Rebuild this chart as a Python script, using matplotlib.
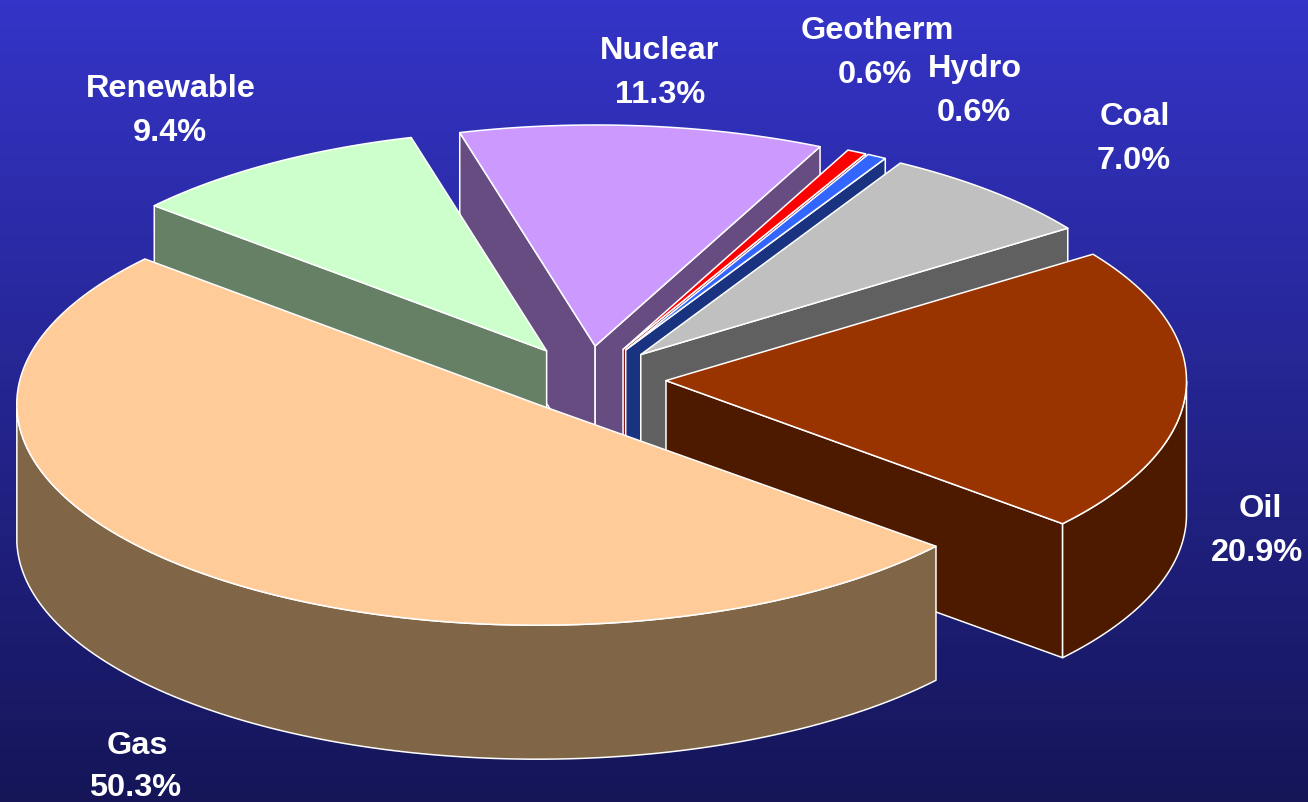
import numpy as np
import matplotlib
matplotlib.use('Agg')
import matplotlib.pyplot as plt
from matplotlib.patches import Polygon

# Share of each source, clockwise round the pie
sources = ['Gas', 'Renewable', 'Nuclear', 'Geotherm', 'Hydro', 'Coal', 'Oil']
shares = [50.3, 9.4, 11.3, 0.6, 0.6, 7.0, 20.9]
top_colors = ['#FFCC99', '#CCFFCC', '#CC99FF', '#FF0000', '#3366FF', '#C0C0C0', '#993300']
wall_colors = ['#806647', '#668066', '#664C80', '#800000', '#1A3380', '#606060', '#4D1A00']

plt.rcParams['font.family'] = ['Liberation Sans', 'DejaVu Sans']

W, H = 1308, 802
fig = plt.figure(figsize=(W / 100, H / 100), dpi=100)
ax = fig.add_axes([0, 0, 1, 1])
ax.set_xlim(0, W)
ax.set_ylim(H, 0)
ax.axis('off')

# Vertical background gradient
grad = np.linspace(0, 1, 256)[:, None, None]
top_bg = np.array([0x34, 0x34, 0xC8]) / 255
bottom_bg = np.array([0x15, 0x15, 0x58]) / 255
ax.imshow(top_bg + (bottom_bg - top_bg) * grad, extent=[0, W, H, 0], aspect='auto', zorder=0)

# Pie geometry
cx, cy = 588, 379      # centre before the slices are pulled out
a, b = 520.5, 221      # radii of the top ellipse
explode = 0.15         # pull-out, as a fraction of the radius
depth = 134            # thickness of the pie
start = 320.0          # angle where the first slice starts, going clockwise


def pt(x0, y0, ang, r=1.0):
    t = np.radians(ang)
    return x0 + r * a * np.cos(t), y0 - r * b * np.sin(t)


def draw_poly(points, color, z):
    ax.add_patch(Polygon(points, closed=True, facecolor=color, edgecolor='white',
                         linewidth=1.1, joinstyle='round', zorder=z))


def draw_slice(i, z):
    a0 = start - sum(shares[:i]) * 3.6
    a1 = a0 - shares[i] * 3.6
    mid = (a0 + a1) / 2
    x0, y0 = pt(cx, cy, mid, explode)
    arc = np.linspace(a0, a1, 160)
    xs, ys = pt(x0, y0, arc)

    # flat walls along the two cut edges, only where they face the front
    for edge in (a0, a1):
        facing = np.cos(np.radians(edge)) < 0 if edge == a0 else np.cos(np.radians(edge)) > 0
        if facing:
            ex, ey = pt(x0, y0, edge)
            draw_poly([(x0, y0), (ex, ey), (ex, ey + depth), (x0, y0 + depth)], wall_colors[i], z)

    # curved outer wall on the front half of the rim
    front = np.sin(np.radians(arc)) <= 0
    if front.any():
        fx, fy = xs[front], ys[front]
        rim = list(zip(fx, fy)) + list(zip(fx[::-1], fy[::-1] + depth))
        draw_poly(rim, wall_colors[i], z)

    # top face
    draw_poly([(x0, y0)] + list(zip(xs, ys)), top_colors[i], z + 0.5)


# Back slices first so that the front ones cover them
for z, i in enumerate([2, 1, 3, 4, 5, 6, 0]):
    draw_slice(i, z + 1)

# Labels, name and value as separate lines
name_xy = [(137, 754), (171, 97), (660, 59), (877, 39), (975, 77), (1135, 125), (1260, 517)]
value_xy = [(135, 796), (170, 141), (660, 103), (875, 83), (974, 121), (1134, 169), (1257, 561)]
for name, val, nxy, vxy in zip(sources, shares, name_xy, value_xy):
    ax.text(nxy[0], nxy[1], name, color='white', fontsize=23.4, fontweight='bold',
            ha='center', va='baseline', zorder=20)
    ax.text(vxy[0], vxy[1], f'{val:.1f}%', color='white', fontsize=23.4, fontweight='bold',
            ha='center', va='baseline', zorder=20)

fig.savefig('out.png', dpi=100)
